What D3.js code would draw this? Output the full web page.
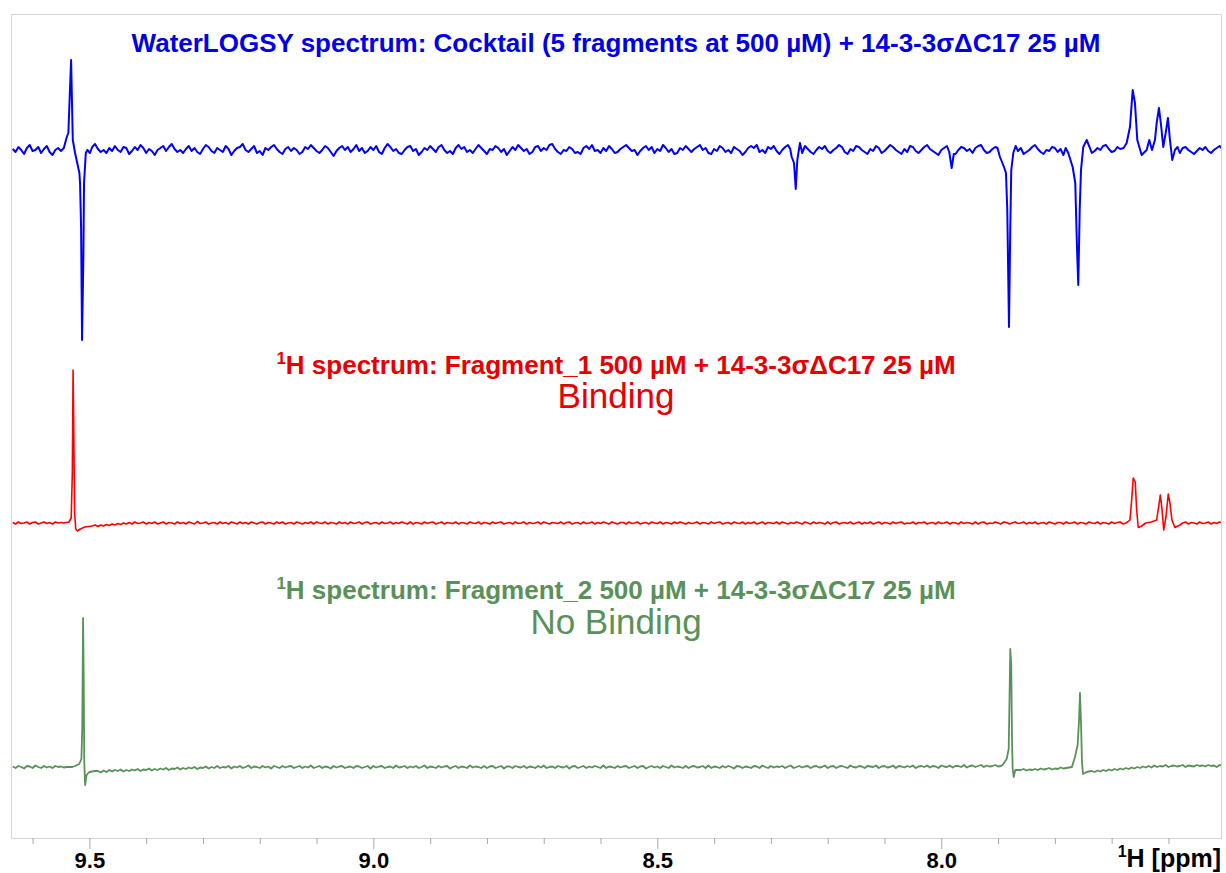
<!DOCTYPE html>
<html>
<head>
<meta charset="utf-8">
<script src="https://cdn.jsdelivr.net/npm/d3@7"></script>
<style>
  body { margin: 0; background: #fff; }
  text { font-family: "Liberation Sans", Arial, sans-serif; }
</style>
</head>
<body>
<div id="chart"></div>
<script>
// ---- data (ppm axis runs right to left) ----
var ppmStart = 9.635, ppmStep = 0.005;   // sampling of the baseline arrays below

var blueNoise = [
  1,-2,3,0,-4,2,5,-1,0,3,-3,1,4,-2,-5,0,2,-1,3,4,
  -2,0,5,1,-3,2,-1,-4,3,6,1,-2,0,-3,2,-1,4,0,-2,3,
  2,-4,-1,3,0,5,2,-3,1,-1,-5,0,2,4,-1,3,6,1,-2,0,
  -3,1,4,-1,2,-2,-4,1,5,3,-1,-3,2,0,-2,4,1,-5,-1,2,
  3,6,0,-2,1,4,-3,-1,-5,2,0,3,5,1,-2,-4,1,3,-1,2,
  0,-4,-2,3,1,5,2,-1,-3,0,4,2,-2,-6,-1,2,4,0,3,-2,
  1,5,-1,2,-3,-1,3,0,4,-2,-4,2,6,3,-1,1,-3,-4,0,3,
  4,-1,1,-5,-2,2,0,4,1,-2,3,5,0,-3,-1,-4,2,5,1,3,
  -2,0,-3,1,5,2,-1,-4,1,0,4,2,-2,1,-5,-1,3,0,5,2,
  -1,1,-4,-2,3,4,-1,2,0,5,6,1,-2,-4,0,-1,3,1,-3,-2,
  -4,2,4,1,5,-1,0,-3,2,-1,4,1,-3,-2,1,3,5,2,-1,0,
  -5,-1,2,4,0,3,-3,1,-1,5,2,-2,1,-4,-3,2,0,4,1,-2,
  1,3,5,0,2,-3,-4,1,-1,4,2,-2,0,-3,3,1,-1,-5,-2,2,
  4,2,5,-2,0,-3,3,1,4,-1,-4,0,3,5,1,2,-2,-1,-3,4,
  1,-2,-4,0,3,1,4,-1,-3,0,2,5,3,-2,-4,1,-1,4,3,0,
  -2,-4,1,-1,4,2,-3,-1,2,5,3,0,-2,-4,1,-2,4,3,-1,-3,
  0,3,5,1,-1,-3,-5,0,2,4,1,-2,-4,0,3,2,-1,1,-3,2,
  4,5,0,-3,-2,1,3,4,-1,0,-3,1,5,3,-1,2,-4,-2,0,3,
  5,1,-2,-4,0,-1,3,2,-2,1,-5,-1,2,4,1,-1,0,3,4,-1,
  -3,-1,2,0,4,5,1,-2,-1,3,1,4,-1,2,-4,-2,1,3,0,-2,
  3,5,1,-1,-3,-4,0,2,4,1,-1,-3,2,3,0,-2,-4,-1,2,0,
  3,-1,-3,0,2,4,1
];
var redNoise = [
  0.5,-1,1,-0.5,0,1,-1,0.5,1,-1, 0,1,-0.5,0.5,-1,1,0,0.5,0,0,
  0,0,0,0,0,0,0,0,-3,-2, -3.5,-2,-3,-1.5,-2.5,-1,-2,-0.5,-1.5,0,
  -1,0.5,-1,1,-0.5,0,1,-1,0.5,-0.5, 1,-1,0,1,-1,0.5,0,-1,1,-0.5,
  0.5,-1,1,0,-1,1.5,-0.5,0,1,-1, 0,0.5,-1,1,-0.5,0.5,-1,1,0,-1,
  1,-0.5,0.5,-1,1,0,-1,0.5,1,-1, 0.5,0,-1,1,-0.5,1,-1,0,0.5,-1,
  1,0,-1,0.5,-0.5,1,-1,1,0,-0.5, 1,-1,0.5,0,-1,1,-0.5,0.5,-1,1,
  -0.5,0,1,-1,0.5,1,-1,0,0.5,-1, 1,-0.5,0,1,-1,0.5,-0.5,1,0,-1,
  1,-1,0.5,0,-1,1,-0.5,0.5,1,-1, 0,1,-1,0.5,0,-0.5,1,-1,0.5,0,
  -1,1,0,-0.5,1,-1,0.5,0,-1,1, -0.5,0.5,1,-1,0,0.5,-1,1,-0.5,0,
  1,-1,0.5,-0.5,0,1,-1,1,0,-1, 0.5,0,-0.5,1,-1,0.5,1,-1,0,0.5,
  -1,1,-0.5,0,1,-1,0.5,-0.5,1,0, -1,1,0,-1,0.5,0.5,-1,1,-0.5,0,
  1,-1,0,0.5,-1,1,0,-0.5,1,-1, 0.5,0,-1,1,-0.5,1,0,-1,0.5,-0.5,
  0,1,-1,0.5,0,-1,1,-0.5,0.5,1, -1,0,0.5,-1,1,0,-0.5,1,-1,0.5,
  -0.5,1,-1,0,1,-1,0.5,0,-0.5,1, -1,1,0,-1,0.5,-0.5,1,0,-1,1,
  0,-1,1,-0.5,0.5,0,-1,1,-1,0.5, 1,-1,0,0.5,-0.5,1,-1,0,1,-1,
  0.5,-0.5,1,-1,0,1,-1,0.5,0,-1, 1,-0.5,0.5,1,-1,0,-0.5,1,-1,0.5,
  0,1,-1,0,0.5,-1,1,-0.5,0,1, -1,0.5,0,-1,1,-0.5,0.5,0,-1,1,
  -1,0.5,1,-1,0,-0.5,1,0,-1,1, 0.5,-1,0,1,-0.5,0,1,-1,0.5,-0.5,
  1,-1,0,0.5,-1,1,0,-1,0.5,0.5, -1,1,-0.5,0,1,-1,0.5,0,-1,1,
  0,-0.5,1,-1,0.5,0,-1,1,-0.5,0.5, 1,-1,0,0.5,-1,1,0,-0.5,1,-1,
  0.5,0,-1,1,-0.5,0,1,-1,0.5,-0.5, 1,-1,0,1,-1,0.5,0,-1,1,-0.5,
  0,1,-1,0.5,-0.5,1,0
];
var greenNoise = [
  0.5,-1,1,0,-1.5,1,0.5,-1,1.5,0, -1,1,-0.5,0.5,-1,1,0,0.5,-0.5,0,
  0,0,0,0,0,0,0,0,0,0, -4,-5.5,-3.5,-5,-3,-4.5,-3,-4,-2.5,-4.5,
  -3,-4,-2.5,-3.5,-2,-4,-2.5,-3,-1.5,-3.5, -2,-3,-1.5,-2.5,-1,-3,-1.5,-2,-0.5,-2.5,
  -1,-2,-0.5,-1.5,0,-2,-0.5,-1,0.5,-1.5, 0,-1,1,-1,0,-0.5,1,-1.5,0.5,-0.5,
  1,-1,0,1.5,-1,0.5,0,-1,1,-0.5, 0.5,-1.5,1,0,-1,1,-0.5,0.5,1,-1,
  0,1,-1,0.5,-0.5,1.5,-1,0,1,-1, 0.5,0,-1.5,1,-0.5,0.5,1,-1,0,0.5,
  -1,1,0.5,-1,0,1,-1.5,1,-0.5,0.5, 1,-1,0,0.5,-1,1.5,-0.5,0,1,-1,
  0.5,-0.5,1,-1,0,1.5,-1,0.5,0,-1, 1,-0.5,0.5,1,-1.5,0,1,-1,0.5,0,
  -1,1.5,-0.5,0.5,0,-1,1,-1,0.5,1, -1,0,1,-1.5,0.5,0.5,-1,1,0,-0.5,
  1,-1,0.5,0,-1,1,-0.5,1.5,-1,0, 0.5,-1,1,0,-0.5,1,-1.5,0.5,1,-1,
  0,1,-1,0.5,-0.5,1,0,-1,1.5,-1, 0.5,0,-1,1,-0.5,0.5,1,-1,0,1,
  -1,0.5,1,-1.5,0,1,-0.5,0.5,-1,1, 0,-1,1.5,-0.5,0.5,0,-1,1,-1,0.5,
  1,-0.5,0,1,-1,1.5,-1,0.5,0,-1, 1,-0.5,1,0,-1.5,1,0.5,-1,0.5,0,
  -1,1,0.5,-1,1.5,0,-1,1,-0.5,0.5, 0,1,-1,0.5,1.5,-1,0,1,-0.5,0.5,
  1,-1,0.5,1,-0.5,0,1.5,-1,0.5,1, -1,0.5,1,0,-1,1.5,0,-0.5,1,0.5,
  -1,1,0.5,0,1.5,-1,0.5,1,-0.5,0, 1.5,-1,1,0.5,-0.5,1,0,1.5,-1,0.5,
  1,0,1.5,-0.5,1,0.5,-1,1.5,0.5,0, 1.5,-0.5,1,1,0,2,-0.5,1,1.5,0,
  1,2,0,1.5,0.5,1,2,0.5,1,0, 0,0,0,0,0,-3,-2,-3.5,-2.5,-3,
  -2,-3,-1.5,-2.5,-2,-1,-2.5,-1.5,-2,-0.5, -1.5,-1,-0.5,0,0,0,0,0,0,-4.5,
  -4,-5,-3.5,-4.5,-3,-4,-2.5,-3.5,-2,-3, -1.5,-2.5,-1,-2,-0.5,-1.5,0,-1,0.5,-0.5,
  1,-0.5,1.5,0,1,0.5,2,0,1,1.5, 0.5,1,2,0,1.5,1,0.5,2,1,1.5,
  0.5,2,1,1.5,0,2,1
];

// peak regions: [ppm, intensity]
var bluePeaks = [
  [[9.545,2],[9.5398,13],[9.537,17],[9.5322,90],[9.5292,10],[9.5252,-3],[9.5176,-23],[9.5164,-33],[9.5146,-77],[9.5129,-190],[9.5106,-107],[9.5094,-33],[9.5063,-3],[9.5035,0],[9.499,-3]],
  [[8.266,1],[8.2634,-7],[8.2593,-13],[8.2563,-39],[8.2535,-10],[8.2488,7],[8.246,0]],
  [[7.986,-2],[7.9817,-18],[7.978,-4]],
  [[7.901,2],[7.8967,-7],[7.8896,-17],[7.8861,-23],[7.8838,-60],[7.8808,-177],[7.8785,-77],[7.8768,-20],[7.8732,-3],[7.869,4]],
  [[7.781,2],[7.7764,-3],[7.7687,-17],[7.7641,-33],[7.7611,-97],[7.7588,-135],[7.7563,-60],[7.754,-20],[7.75,3],[7.744,10],[7.739,3]],
  [[7.679,2],[7.6736,7],[7.6678,23],[7.663,60],[7.659,47],[7.6549,10],[7.6472,-5],[7.6384,0],[7.6338,10],[7.629,0],[7.6238,10],[7.6208,27],[7.6167,42],[7.6127,23],[7.6092,3],[7.6049,17],[7.6009,32],[7.5974,10],[7.5933,-10],[7.5886,0],[7.584,3]]
];
var redPeaks = [
  [[9.545,0],[9.536,1],[9.532,5],[9.530,50],[9.5287,153],[9.5275,95],[9.526,10],[9.524,-6],[9.521,-8],[9.516,-6],[9.508,-4],[9.495,-3]],
  [[7.672,1],[7.6678,3],[7.6648,23],[7.662,45],[7.6585,41],[7.656,13],[7.6532,-4.5],[7.6472,-3],[7.64,0],[7.63,1],[7.6208,3],[7.6173,16],[7.6144,28],[7.6114,14],[7.6084,-7],[7.6044,6],[7.6004,29],[7.5974,20],[7.5939,3],[7.5886,-4.5],[7.5798,-2]]
];
var greenPeaks = [
  [[9.525,1],[9.518,3],[9.514,8],[9.5125,40],[9.5111,149],[9.51,90],[9.509,5],[9.5075,-18],[9.505,-8],[9.5,-5],[9.49,-4]],
  [[7.892,2],[7.8849,8],[7.8813,18],[7.8796,78],[7.8785,118],[7.8768,102],[7.8755,28],[7.8743,-2],[7.8725,-10],[7.8697,-3],[7.864,-3]],
  [[7.77,0],[7.7646,10],[7.7599,22],[7.7576,45],[7.7558,74],[7.754,45],[7.7523,5],[7.7505,-7],[7.744,-5]]
];

var majorTicks = [9.5, 9.0, 8.5, 8.0];
var minorTicks = [9.6, 9.4, 9.3, 9.2, 9.1, 8.9, 8.8, 8.7, 8.6, 8.4, 8.3, 8.2, 8.1, 7.9, 7.8, 7.7, 7.6];

var titleBlue = "WaterLOGSY spectrum: Cocktail (5 fragments at 500 µM) + 14-3-3σΔC17 25 µM";
var titleRed = "H spectrum: Fragment_1 500 µM + 14-3-3σΔC17 25 µM";
var titleGreen = "H spectrum: Fragment_2 500 µM + 14-3-3σΔC17 25 µM";
var labelRed = "Binding";
var labelGreen = "No Binding";

// ---- layout ----
var W = 1226, H = 873;
var plotLeft = 11, plotRight = 1221, plotTop = 14, plotBottom = 838;

var svg = d3.select("#chart").append("svg")
    .attr("width", W)
    .attr("height", H);

var x = d3.scaleLinear().domain([9.638, 7.5075]).range([plotLeft, plotRight]);

svg.append("defs").append("clipPath").attr("id", "plotclip")
  .append("rect")
    .attr("x", plotLeft).attr("y", plotTop)
    .attr("width", plotRight - plotLeft).attr("height", plotBottom - plotTop);

// frame
svg.append("rect")
    .attr("x", plotLeft + 0.5).attr("y", plotTop + 0.5)
    .attr("width", plotRight - plotLeft).attr("height", plotBottom - plotTop)
    .style("fill", "none")
    .style("stroke", "#d6d6d6")
    .style("stroke-width", 1);

// baseline samples outside the peak regions + the peak points, in ppm order
function buildTrace(noise, peaks) {
    var pts = [];
    noise.forEach(function(v, i) {
        var p = ppmStart - i * ppmStep;
        var inside = peaks.some(function(g) {
            return p <= g[0][0] + 0.001 && p >= g[g.length - 1][0] - 0.001;
        });
        if (!inside) pts.push([p, v]);
    });
    peaks.forEach(function(g) { g.forEach(function(d) { pts.push(d); }); });
    pts.sort(function(a, b) { return b[0] - a[0]; });
    return pts;
}

var traces = [
    {noise: blueNoise, peaks: bluePeaks, base: 150, color: "#0000ff", width: 2},
    {noise: redNoise, peaks: redPeaks, base: 523, color: "#ff0000", width: 1.6},
    {noise: greenNoise, peaks: greenPeaks, base: 767, color: "#5a9158", width: 1.8}
];

var plot = svg.append("g").attr("clip-path", "url(#plotclip)");

traces.forEach(function(t) {
    var y = d3.scaleLinear().domain([-100, 100]).range([t.base + 100, t.base - 100]);
    var line = d3.line()
        .x(function(d) { return x(d[0]); })
        .y(function(d) { return y(d[1]); });
    plot.append("path")
        .datum(buildTrace(t.noise, t.peaks))
        .attr("d", line)
        .style("fill", "none")
        .style("stroke", t.color)
        .style("stroke-width", t.width)
        .style("stroke-linejoin", "round");
});

// axis
var axisG = svg.append("g").attr("transform", "translate(0," + plotBottom + ")");
axisG.append("g")
    .call(d3.axisBottom(x).tickValues(minorTicks).tickSize(6).tickFormat(""))
    .call(function(g) { g.select(".domain").remove(); });
axisG.append("g")
    .call(d3.axisBottom(x).tickValues(majorTicks).tickSize(11).tickPadding(3).tickFormat(d3.format(".1f")))
    .call(function(g) { g.select(".domain").remove(); });
axisG.selectAll(".tick line").style("stroke", "#a8a8a8");
axisG.selectAll(".tick text")
    .style("font-size", "22px")
    .style("font-weight", "bold")
    .style("font-family", "'Liberation Sans', Arial, sans-serif")
    .style("fill", "#000");

var axTitle = svg.append("text")
    .attr("x", plotRight).attr("y", 867)
    .attr("text-anchor", "end")
    .style("font-size", "25px")
    .style("font-weight", "bold");
axTitle.append("tspan").attr("dy", -10).style("font-size", "16px").text("1");
axTitle.append("tspan").attr("dy", 10).text("H [ppm]");

// titles
var cx = 616;
svg.append("text")
    .attr("x", cx).attr("y", 52)
    .attr("text-anchor", "middle")
    .style("font-size", "26px")
    .style("font-weight", "bold")
    .style("fill", "#0000e6")
    .text(titleBlue);

function supTitle(txt, yPos, color) {
    var t = svg.append("text")
        .attr("x", cx).attr("y", yPos)
        .attr("text-anchor", "middle")
        .style("font-size", "26px")
        .style("font-weight", "bold")
        .style("fill", color);
    t.append("tspan").attr("dy", -10).style("font-size", "17px").text("1");
    t.append("tspan").attr("dy", 10).text(txt);
}
supTitle(titleRed, 374, "#e60000");
supTitle(titleGreen, 599, "#5a9158");

svg.append("text")
    .attr("x", cx).attr("y", 408)
    .attr("text-anchor", "middle")
    .style("font-size", "35px")
    .style("fill", "#e60000")
    .text(labelRed);
svg.append("text")
    .attr("x", cx).attr("y", 634)
    .attr("text-anchor", "middle")
    .style("font-size", "35px")
    .style("fill", "#5a9158")
    .text(labelGreen);
</script>
</body>
</html>
